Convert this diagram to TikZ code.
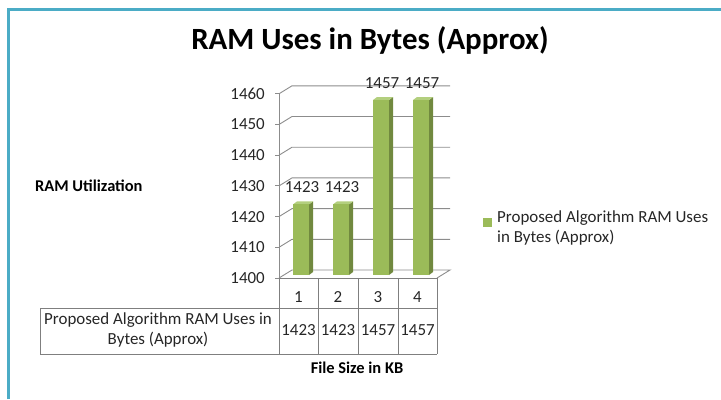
\documentclass[tikz,border=0pt]{standalone}
\usepackage{fontspec}
\setmainfont{Carlito}
\definecolor{frame}{HTML}{4BACC6}
\definecolor{barfront}{HTML}{9BBB59}
\definecolor{barside}{HTML}{71893F}
\definecolor{bartop}{HTML}{B3CF7E}
\definecolor{gridc}{HTML}{8C8C8C}
\definecolor{tabc}{HTML}{7F7F7F}
\definecolor{txt}{HTML}{262626}
\begin{document}
\begin{tikzpicture}[x=1bp,y=-1bp,
  grid/.style={draw=gridc,line width=0.9bp},
  tab/.style={draw=tabc,line width=0.9bp},
  lbl/.style={font=\fontsize{17}{19}\selectfont,text=txt,inner sep=0pt},
  bold/.style={font=\fontsize{16.5}{18}\selectfont\bfseries,text=black,inner sep=0pt}]
\useasboundingbox (0,0) rectangle (721,399);
% frame
\draw[frame,line width=3bp] (8,399) -- (8,9) -- (721,9);
% title
\node[inner sep=0pt,font=\fontsize{31}{34}\selectfont\bfseries] (title) at (370,40) {RAM Uses in Bytes (Approx)};
% gridlines and axis labels
\foreach \v/\n in {0/1400,10/1410,20/1420,30/1430,40/1440,50/1450,60/1460}{
  \pgfmathsetmacro{\ty}{278-\v*3.07}
  \ifnum\v>0
    \draw[grid] (279,\ty) -- (292,\ty-8) -- (450,\ty-8);
  \fi
  \draw[grid] (275,\ty) -- (279,\ty);
  \node[lbl,anchor=east] (t\n) at (265,\ty) {\n};
}
% floor
\draw[grid] (279,278) -- (292,270) -- (450,270) -- (437,278);
% axis
\draw[grid] (279,93) -- (279,278);
% bars
\foreach \x/\v/\k in {293/1423/1,333/1423/2,373/1457/3,413/1457/4}{
  \pgfmathsetmacro{\ty}{275-(\v-1400)*3.07}
  \fill[barside] (\x+16,\ty) -- (\x+20,\ty-3) -- (\x+20,272) -- (\x+16,275) -- cycle;
  \fill[bartop] (\x,\ty) -- (\x+4,\ty-3) -- (\x+20,\ty-3) -- (\x+16,\ty) -- cycle;
  \fill[barfront] (\x,\ty) rectangle (\x+16,275);
  \node[lbl] (v\k) at (\x+9,\ty-17) {\v};
}
% table
\draw[tab] (279,278) -- (437,278);
\draw[tab] (40,308) -- (437,308);
\draw[tab] (40,354) -- (437,354);
\draw[tab] (40,308) -- (40,354);
\foreach \x in {279,318,358,398,437}{\draw[tab] (\x,278) -- (\x,354);}
\foreach \x/\c in {298.5/1,338/2,378/3,417.5/4}{\node[lbl] (c\c) at (\x,297) {\c};}
\foreach \x/\c/\v in {298.5/1/1423,338/2/1423,378/3/1457,417.5/4/1457}{\node[lbl] (d\c) at (\x,330) {\v};}
\node[lbl,align=center] (rowlbl) at (158,330) {Proposed Algorithm RAM Uses in\\[1pt]Bytes (Approx)};
% axis titles
\node[bold] (xt) at (357,368) {File Size in KB};
\node[bold,anchor=west] (yt) at (35,186) {RAM Utilization};
% legend
\fill[barfront] (483,218) rectangle (492,227);
\node[lbl,anchor=north west,align=left] (leg) at (497,211) {Proposed Algorithm RAM Uses\\[1pt]in Bytes (Approx)};
\end{tikzpicture}
\end{document}
